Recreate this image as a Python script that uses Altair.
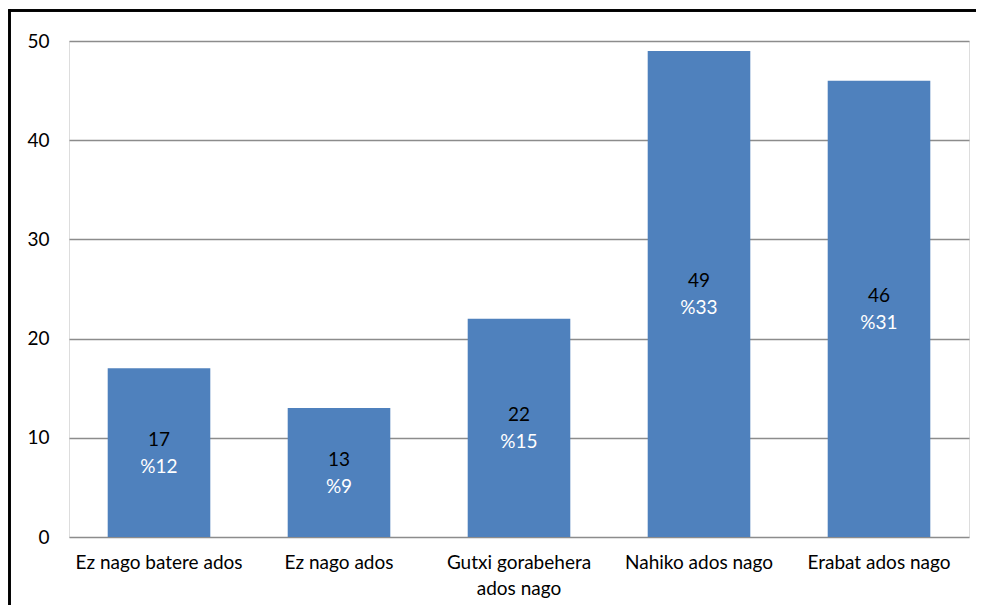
import altair as alt
import pandas as pd

categories = ["Ez nago batere ados", "Ez nago ados", "Gutxi gorabehera ados nago", "Nahiko ados nago", "Erabat ados nago"]
counts = [17, 13, 22, 49, 46]
percents = ["%12", "%9", "%15", "%33", "%31"]

df = pd.DataFrame({"cat": categories, "n": counts, "pct": percents})
df["mid"] = df["n"] / 2

FONT = "Lato"
FS = 19

x = alt.X("cat:N", sort=categories, title=None,
          scale=alt.Scale(paddingInner=0.43, paddingOuter=0.215),
          axis=alt.Axis(labelAngle=0, domain=False, ticks=False, labelPadding=16,
                        labelFont=FONT, labelFontSize=FS, labelColor="#000000",
                        labelLineHeight=26, labelLimit=300,
                        labelExpr="datum.label == 'Gutxi gorabehera ados nago' ? ['Gutxi gorabehera', 'ados nago'] : datum.label"))

bars = alt.Chart(df).mark_bar(color="#4F81BD").encode(
    x=x,
    y=alt.Y("n:Q", title=None,
            scale=alt.Scale(domain=[0, 50]),
            axis=alt.Axis(values=[0, 10, 20, 30, 40, 50], domain=False, ticks=False,
                          labelPadding=20, labelFont=FONT, labelFontSize=FS,
                          labelColor="#000000", gridColor="#8c8c8c", gridWidth=1.5)),
)

txt_n = alt.Chart(df).mark_text(font=FONT, fontSize=FS, color="#000000", dy=-13).encode(
    x=alt.X("cat:N", sort=categories), y="mid:Q", text="n:Q")
txt_p = alt.Chart(df).mark_text(font=FONT, fontSize=FS, color="#ffffff", dy=14).encode(
    x=alt.X("cat:N", sort=categories), y="mid:Q", text="pct:N")

frame_top = alt.Chart(df).mark_rule(color="#000000", strokeWidth=2).encode(
    x=alt.value(-60.5), x2=alt.value(1000), y=alt.value(-30.5))
frame_left = alt.Chart(df).mark_rule(color="#000000", strokeWidth=2).encode(
    x=alt.value(-59.5), y=alt.value(-31.5), y2=alt.value(700))

chart = alt.layer(frame_top, frame_left, bars, txt_n, txt_p).properties(
    width=900, height=496,
    padding={"left": 61, "top": 33, "right": 7, "bottom": 68},
    autosize=alt.AutoSizeParams(type="none"),
).configure_view(stroke=None).configure(background="#ffffff")

chart.save("out.html", embed_options={"renderer": "svg", "actions": False})
